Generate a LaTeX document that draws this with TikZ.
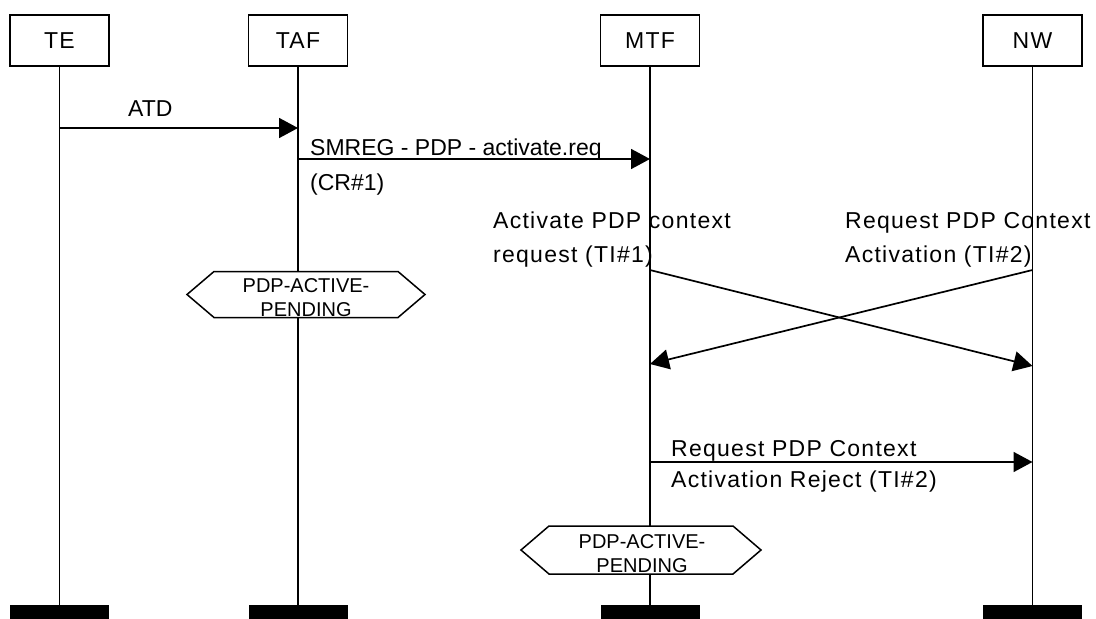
\documentclass[tikz,border=0pt]{standalone}
\usepackage{fontspec}
\setmainfont{Liberation Sans}[LetterSpace=5.5]
\newfontfamily\plainfont{Liberation Sans}
\usetikzlibrary{arrows.meta}
\begin{document}
\begin{tikzpicture}[x=1pt,y=-1pt,
  entity/.style={draw, line width=1.7pt, minimum width=99pt, minimum height=51pt,
    inner sep=0pt, font=\fontsize{23}{27}\selectfont},
  lifeline/.style={line width=1.7pt},
  msg/.style={line width=1.7pt, -{Triangle[length=19pt,width=20pt]}},
  lbl/.style={inner sep=0pt, anchor=base west, align=left},
  endbar/.style={fill=black, minimum width=99pt, minimum height=14pt, inner sep=0pt},
  hexline/.style={draw, fill=white, line width=1.5pt, line join=miter},
  hexlbl/.style={inner sep=0pt, anchor=base, align=center,
    font=\plainfont\fontsize{20}{24}\selectfont}
]
\useasboundingbox (0,0) rectangle (1096,619);

% entities
\node[entity] (te)  at (59.5,40.5)  {TE};
\node[entity] (taf) at (298,40.5)   {TAF};
\node[entity] (mtf) at (650,40.5)   {MTF};
\node[entity] (nw)  at (1032.5,40.5) {NW};

% end bars
\node[endbar] (te-end)  at (59.5,612)   {};
\node[endbar] (taf-end) at (298,612)    {};
\node[endbar] (mtf-end) at (650,612)    {};
\node[endbar] (nw-end)  at (1032.5,612) {};

% lifelines
\draw[lifeline] (te)  -- (te-end);
\draw[lifeline] (taf) -- (taf-end);
\draw[lifeline] (mtf) -- (mtf-end);
\draw[lifeline] (nw)  -- (nw-end);

% message end points
\coordinate (atd-a)   at (59.5,128);
\coordinate (atd-b)   at (298,128);
\coordinate (smreg-a) at (298,159);
\coordinate (smreg-b) at (650,159);
\coordinate (act-a)   at (650,270);
\coordinate (act-b)   at (1032.5,366);
\coordinate (req-a)   at (1032.5,270);
\coordinate (req-b)   at (650,364);
\coordinate (rej-a)   at (650,462);
\coordinate (rej-b)   at (1032.5,462);

% messages
\draw[msg] (atd-a) -- (atd-b);
\draw[msg] (smreg-a) -- (smreg-b);
\draw[msg] (act-a) -- (act-b);
\draw[msg] (req-a) -- (req-b);
\draw[msg] (rej-a) -- (rej-b);

% message labels (a two-line node sits on the baseline of its last line)
\node[lbl, font=\plainfont\fontsize{23}{27}\selectfont] (atd-l) at (128,116) {ATD};
\node[lbl, font=\plainfont\fontsize{23}{35}\selectfont] (smreg-l) at (310,190)
  {SMREG - PDP - activate.req\\(CR\#1)};
\node[lbl, font=\fontsize{23}{34}\selectfont] (act-l) at (493,262)
  {Activate PDP context\\request (TI\#1)};
\node[lbl, font=\fontsize{23}{34}\selectfont] (req-l) at (845,262)
  {Request PDP Context\\Activation (TI\#2)};
\node[lbl, font=\fontsize{23}{31}\selectfont] (rej-l) at (671,487)
  {Request PDP Context\\Activation Reject (TI\#2)};

% state markers
\coordinate (hex1) at (306,294.5);
\draw[hexline] (hex1) ++(-119,0) -- ++(27,-23) -- ++(184,0) -- ++(27,23)
  -- ++(-27,23) -- ++(-184,0) -- cycle;
\node[hexlbl] (hex1-l) at (306,316.5) {PDP-ACTIVE-\\PENDING};

\coordinate (hex2) at (641,550);
\draw[hexline] (hex2) ++(-120,0) -- ++(28,-24) -- ++(184,0) -- ++(28,24)
  -- ++(-28,24) -- ++(-184,0) -- cycle;
\node[hexlbl] (hex2-l) at (642,572) {PDP-ACTIVE-\\PENDING};
\end{tikzpicture}
\end{document}
